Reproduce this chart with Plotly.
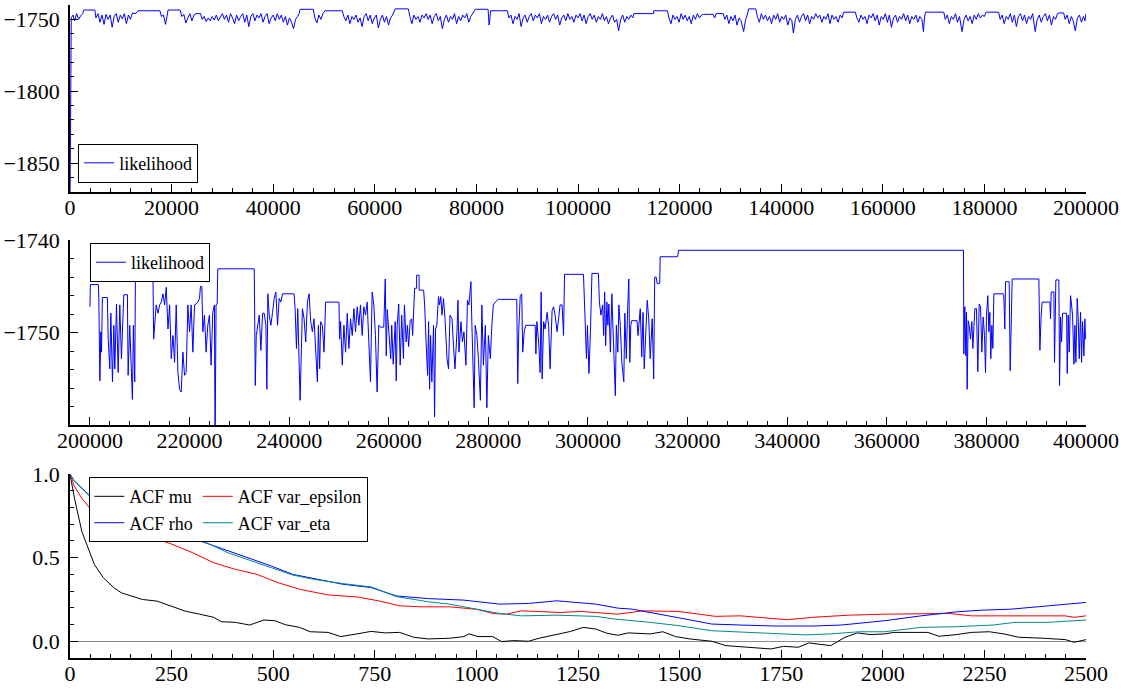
import plotly.graph_objects as go

# ---------------- data ----------------
# Panel 1: likelihood trace, iterations 0 - 200000 (iteration in thousands, log-likelihood)
top_trace = [
    (0, -1880), (0.25, -1749), (0.6, -1747), (0.9, -1751), (1.3, -1746), (1.7, -1750), (2.1, -1747.5), (2.5, -1746),
    (2.7, -1743.5), (4.9, -1743.5),
    (5.1, -1749), (5.5, -1746), (5.9, -1752), (6.3, -1747), (6.7, -1753.5), (7.1, -1746.5), (7.5, -1750), (7.9, -1747),
    (8.3, -1755.5), (8.7, -1748), (9.1, -1746), (9.5, -1752), (9.9, -1747), (10.3, -1749.5), (10.7, -1746), (11.1, -1753),
    (11.5, -1747), (11.9, -1750), (12.3, -1745.5), (12.8, -1746), (13.1, -1745.5),
    (13.4, -1744), (17.7, -1744),
    (18.0, -1748), (18.4, -1747), (18.8, -1753.5), (19.1, -1748),
    (19.3, -1743.5), (21.7, -1743.5),
    (22.0, -1748), (22.4, -1746.5), (22.8, -1752.5), (23.2, -1749), (23.6, -1746), (24.0, -1751), (24.4, -1747),
    (24.8, -1746), (25.7, -1746),
    (26.0, -1750), (26.4, -1748), (26.8, -1751.5), (27.2, -1749), (27.6, -1751), (28.0, -1748), (28.4, -1750.5),
    (28.8, -1747), (29.2, -1751), (29.6, -1748), (30.0, -1746), (30.4, -1750), (30.8, -1747), (31.2, -1752),
    (31.6, -1746), (32.0, -1749), (32.4, -1753), (32.8, -1747), (33.2, -1751), (33.6, -1748), (34.0, -1746),
    (34.4, -1752), (34.8, -1747), (35.2, -1755), (35.6, -1748), (36.0, -1746), (36.4, -1751), (36.8, -1747),
    (37.2, -1749), (37.6, -1746), (38.0, -1752), (38.4, -1748), (38.8, -1746), (39.2, -1753), (39.6, -1749),
    (40.0, -1747), (40.4, -1751), (40.8, -1746), (41.2, -1750), (41.6, -1747), (42.0, -1752), (42.4, -1748),
    (42.8, -1754), (43.2, -1749), (43.6, -1752), (44.0, -1756.5), (44.4, -1750), (44.8, -1748), (45.1, -1746),
    (45.3, -1743), (47.9, -1743),
    (48.2, -1749), (48.6, -1752.5), (49.0, -1747), (49.4, -1750), (49.8, -1746),
    (50.2, -1744), (53.6, -1744),
    (53.9, -1748), (54.3, -1751), (54.7, -1747), (55.1, -1753), (55.5, -1748), (55.9, -1750), (56.3, -1747),
    (56.7, -1752), (57.1, -1749), (57.5, -1755), (57.9, -1748), (58.3, -1746), (58.7, -1751), (59.1, -1747),
    (59.5, -1753), (59.9, -1749), (60.3, -1747), (60.7, -1756), (61.1, -1750), (61.5, -1747), (61.9, -1752),
    (62.3, -1748), (62.7, -1754), (63.1, -1749), (63.5, -1747),
    (64.0, -1742.7), (66.6, -1742.7),
    (66.9, -1748), (67.3, -1753), (67.7, -1747), (68.1, -1750), (68.5, -1748), (68.9, -1752), (69.3, -1747),
    (69.7, -1749), (70.1, -1746), (70.5, -1750), (70.9, -1747), (71.3, -1753), (71.7, -1748), (72.1, -1746),
    (72.5, -1751), (72.9, -1748), (73.3, -1756.5), (73.7, -1750), (74.1, -1747), (74.5, -1752), (74.9, -1748),
    (75.3, -1750), (75.7, -1746), (76.1, -1753), (76.5, -1748), (76.9, -1751), (77.3, -1747), (77.7, -1749),
    (78.1, -1746), (78.5, -1752), (78.9, -1748), (79.3, -1746),
    (79.8, -1743), (82.3, -1743),
    (82.5, -1754), (82.7, -1748),
    (82.8, -1744), (86.1, -1744),
    (86.4, -1749), (86.8, -1747), (87.2, -1753), (87.6, -1748), (88.0, -1750), (88.4, -1746), (88.8, -1755),
    (89.2, -1749), (89.6, -1747), (90.0, -1752), (90.4, -1748), (90.8, -1746), (91.2, -1751), (91.6, -1747),
    (92.0, -1749), (92.4, -1746), (92.8, -1753), (93.2, -1748), (93.6, -1750), (94.0, -1747), (94.4, -1752),
    (94.8, -1748), (95.2, -1746), (95.6, -1750), (96.0, -1747), (96.4, -1754), (96.8, -1749), (97.2, -1747),
    (97.6, -1751), (98.0, -1746), (98.4, -1750), (98.8, -1748), (99.2, -1752), (99.6, -1747), (100.0, -1749),
    (100.4, -1746), (100.8, -1751), (101.2, -1747), (101.6, -1753), (102.0, -1748), (102.4, -1746), (102.8, -1750),
    (103.2, -1747), (103.6, -1752), (104.0, -1748), (104.4, -1750), (104.8, -1746), (105.2, -1751), (105.6, -1748),
    (106.0, -1753), (106.4, -1749), (106.8, -1747), (107.2, -1752), (107.6, -1750), (108.0, -1758), (108.4, -1750),
    (108.8, -1747), (109.2, -1752), (109.6, -1748), (110.0, -1750), (110.4, -1747), (110.8, -1749),
    (111.0, -1746), (114.9, -1746), (114.9, -1744), (117.6, -1744),
    (117.9, -1749), (118.3, -1753), (118.7, -1747), (119.1, -1750), (119.5, -1748), (119.9, -1752), (120.3, -1746),
    (120.7, -1750), (121.1, -1747), (121.5, -1751), (121.9, -1748), (122.3, -1753), (122.7, -1747), (123.1, -1750),
    (123.5, -1746), (123.9, -1749), (124.3, -1747),
    (124.7, -1746.5), (126.6, -1746.5), (126.9, -1749), (127.2, -1746), (128.6, -1746),
    (128.9, -1750), (129.3, -1747), (129.7, -1753), (130.1, -1748), (130.5, -1751), (130.9, -1747), (131.3, -1754),
    (131.7, -1749), (132.1, -1751), (132.6, -1758.5), (133.0, -1750), (133.3, -1747),
    (133.6, -1742.7), (135.0, -1742.7),
    (135.3, -1748), (135.7, -1752), (136.1, -1746), (136.5, -1750), (136.9, -1747), (137.3, -1751), (137.7, -1748),
    (138.1, -1753), (138.5, -1747), (138.9, -1750), (139.3, -1746), (139.7, -1752), (140.1, -1748), (140.5, -1750),
    (140.9, -1747), (141.3, -1754), (141.7, -1749), (142.1, -1751), (142.4, -1759.5), (142.8, -1750), (143.2, -1747),
    (143.6, -1752), (144.0, -1748), (144.4, -1746), (144.8, -1751), (145.2, -1747), (145.6, -1753), (146.0, -1748),
    (146.4, -1750), (146.8, -1746), (147.2, -1749), (147.6, -1747), (148.0, -1752), (148.4, -1748), (148.8, -1750),
    (149.2, -1746), (149.6, -1753), (150.0, -1747), (150.4, -1750), (150.8, -1748), (151.2, -1752), (151.6, -1747),
    (152.0, -1749),
    (152.3, -1745), (154.6, -1745),
    (154.9, -1749), (155.3, -1752), (155.7, -1747), (156.1, -1750), (156.5, -1748), (156.9, -1753), (157.3, -1747),
    (157.7, -1749), (158.1, -1746), (158.5, -1751), (158.9, -1747), (159.3, -1754), (159.7, -1748), (160.1, -1750),
    (160.5, -1746), (160.9, -1752), (161.3, -1747), (161.7, -1755.5), (162.1, -1749), (162.5, -1747), (162.9, -1752),
    (163.3, -1748), (163.7, -1750), (164.1, -1746), (164.5, -1751), (164.9, -1747), (165.3, -1753), (165.7, -1748),
    (166.1, -1750), (166.5, -1747), (166.9, -1752), (167.3, -1748), (167.7, -1750), (168.0, -1758.5), (168.2, -1749),
    (168.4, -1745), (172.0, -1745),
    (172.3, -1750), (172.7, -1747), (173.1, -1753), (173.5, -1748), (173.9, -1750), (174.3, -1746), (174.7, -1752),
    (175.1, -1748), (175.6, -1758.5), (176.0, -1750), (176.4, -1747), (176.8, -1751), (177.2, -1748), (177.6, -1753),
    (178.0, -1747), (178.4, -1750), (178.8, -1746), (179.2, -1749), (179.6, -1747), (180.0, -1748),
    (180.3, -1745), (182.8, -1745),
    (183.1, -1750), (183.5, -1747), (183.9, -1753), (184.3, -1748), (184.7, -1750), (185.1, -1746), (185.5, -1752),
    (185.9, -1747), (186.3, -1755), (186.7, -1748), (187.1, -1746), (187.5, -1751), (187.9, -1747), (188.3, -1753),
    (188.7, -1748), (189.1, -1750), (189.5, -1746), (190.0, -1758.5), (190.4, -1750), (190.8, -1747), (191.2, -1752),
    (191.6, -1748), (192.0, -1746), (192.4, -1751), (192.8, -1747), (193.2, -1754), (193.6, -1748), (194.0, -1750),
    (194.4, -1746), (194.8, -1745.5), (195.6, -1745.5), (195.9, -1750), (196.3, -1747), (196.7, -1753), (197.1, -1748),
    (197.5, -1751), (197.9, -1758), (198.3, -1749), (198.7, -1747), (199.1, -1752), (199.5, -1748), (199.8, -1751),
    (200.0, -1746),
]

# Panel 2: likelihood trace, iterations 200000 - 400000
mid_trace = [
    (200.0, -1747.2), (200.1, -1744.8), (201.7, -1744.8), (201.8, -1746.7), (201.93, -1752.1), (202.0, -1755.2),
    (202.2, -1749.9), (202.33, -1752.1), (202.45, -1748.1), (202.5, -1746.2), (203.5, -1746.2),
    (203.67, -1750.7), (204.0, -1753.9), (204.2, -1747.9), (204.53, -1755.3), (204.8, -1749.2), (205.0, -1753.9),
    (205.33, -1746.9), (205.67, -1754.3), (206.0, -1747.0), (206.33, -1752.8), (206.8, -1745.9), (207.53, -1745.9),
    (207.67, -1754.6), (208.0, -1749.2), (208.33, -1753.9), (208.53, -1757.2), (208.73, -1749.2), (209.0, -1755.3),
    (209.13, -1744.4), (212.67, -1744.4),
    (212.8, -1750.7), (213.0, -1749.2), (213.3, -1747.0), (213.67, -1747.9), (214.0, -1747.0), (214.33, -1746.7),
    (214.67, -1745.8), (215.0, -1747.0), (215.33, -1745.1), (215.67, -1749.6), (216.0, -1747.0), (216.33, -1752.8),
    (216.67, -1750.3), (217.0, -1753.2), (217.33, -1747.0), (217.67, -1754.3), (218.0, -1756.1), (218.33, -1756.4),
    (218.67, -1752.1), (219.0, -1754.6), (219.33, -1754.3), (219.67, -1747.0), (220.0, -1749.9), (220.33, -1747.0),
    (220.67, -1752.1), (221.0, -1747.0), (221.33, -1746.9), (221.67, -1746.7), (222.0, -1746.3), (222.2, -1745.0),
    (222.47, -1745.0), (222.67, -1749.9), (223.0, -1748.1), (223.33, -1752.1), (223.67, -1749.2), (224.0, -1748.1),
    (224.33, -1753.5), (224.67, -1747.8), (225.0, -1747.0), (225.13, -1762.0), (225.33, -1747.0), (225.55, -1746.9),
    (225.67, -1743.1), (233.0, -1743.1),
    (233.05, -1749.2), (233.2, -1755.7), (233.4, -1750.3), (233.67, -1749.2), (234.0, -1748.1), (234.33, -1751.9),
    (234.67, -1747.9), (235.0, -1747.9), (235.33, -1749.2), (235.53, -1756.1), (235.73, -1745.8), (236.0, -1748.1),
    (236.33, -1749.2), (236.67, -1747.8), (237.0, -1746.3), (237.33, -1745.6), (237.67, -1749.2), (238.0, -1746.3),
    (238.33, -1746.7), (238.67, -1745.8), (241.0, -1745.8),
    (241.2, -1747.4), (241.47, -1751.7), (241.73, -1747.4), (242.0, -1754.3), (242.2, -1757.3), (242.4, -1753.2),
    (242.67, -1747.4), (243.0, -1748.5), (243.33, -1751.0), (243.67, -1746.7), (244.0, -1745.8), (244.33, -1748.8),
    (244.67, -1749.9), (245.0, -1748.5), (245.33, -1751.4), (245.67, -1755.3), (245.87, -1749.2), (246.13, -1753.9),
    (246.33, -1748.8), (246.67, -1749.2), (247.0, -1752.1), (247.33, -1746.7), (250.0, -1746.7),
    (250.13, -1750.7), (250.33, -1748.8), (250.67, -1753.5), (251.0, -1749.2), (251.33, -1752.1), (251.67, -1747.9),
    (252.0, -1751.7), (252.33, -1748.5), (252.67, -1750.3), (253.0, -1747.4), (253.33, -1749.9), (253.67, -1747.2),
    (254.0, -1749.2), (254.33, -1747.0), (254.67, -1750.3), (255.0, -1747.2), (255.33, -1748.1), (255.67, -1746.7),
    (256.0, -1750.7), (256.33, -1755.3), (256.67, -1745.6), (257.0, -1747.0), (257.33, -1750.3), (257.67, -1756.4),
    (258.0, -1749.2), (258.3, -1749.4), (259.0, -1749.4), (259.2, -1747.0), (259.3, -1744.2), (259.5, -1752.5),
    (259.7, -1747.5),
    (260.4, -1752.8), (260.6, -1749.2), (260.9, -1753.4), (261.3, -1748.8), (261.5, -1755.2), (261.7, -1749.2),
    (262.0, -1746.9), (262.3, -1753.5), (262.6, -1748.1), (262.95, -1752.8), (263.15, -1747.0), (263.5, -1751.0),
    (263.75, -1749.2), (264.0, -1751.5), (264.3, -1748.7), (264.6, -1748.5), (264.8, -1750.3), (264.96, -1748.1),
    (265.2, -1745.2), (265.6, -1745.2), (265.6, -1743.8), (266.1, -1743.8), (266.1, -1745.4), (267.0, -1745.4),
    (267.2, -1746.9), (267.5, -1751.0), (267.8, -1754.6), (268.0, -1748.8), (268.2, -1756.1), (268.4, -1750.3),
    (268.65, -1755.3), (269.0, -1749.2), (269.2, -1759.1), (269.4, -1749.6), (269.65, -1749.2), (270.0, -1746.1),
    (270.2, -1747.0), (270.45, -1746.1), (270.7, -1748.1), (271.0, -1746.3), (271.3, -1748.5),
    (271.7, -1752.8), (272.0, -1753.9), (272.3, -1748.1), (272.7, -1748.5), (273.0, -1751.4), (273.3, -1753.9),
    (273.7, -1749.9), (273.9, -1746.5), (274.1, -1752.1), (274.5, -1748.8), (274.8, -1751.0), (275.1, -1749.9),
    (275.5, -1753.5), (275.8, -1746.5), (276.1, -1747.0), (276.5, -1744.5),
    (276.7, -1749.2), (276.9, -1753.5), (277.15, -1758.1), (277.35, -1749.2), (277.7, -1750.3), (278.0, -1752.8),
    (278.4, -1757.3), (278.7, -1747.0), (279.0, -1753.5), (279.4, -1749.2), (279.7, -1758.1), (280.0, -1750.3),
    (280.4, -1752.8), (280.7, -1749.2), (281.0, -1747.0), (281.4, -1746.7), (282.0, -1746.4), (285.7, -1746.4),
    (285.9, -1755.5), (286.1, -1749.9), (286.4, -1746.0), (286.7, -1745.8), (286.9, -1752.1), (287.2, -1749.9),
    (287.5, -1749.2), (289.4, -1749.2),
    (289.55, -1752.3), (289.75, -1748.8), (290.1, -1751.0), (290.4, -1754.3), (290.6, -1745.6), (290.8, -1755.0),
    (291.1, -1748.8), (291.4, -1749.6), (291.8, -1747.8), (292.1, -1749.2), (292.4, -1753.9), (292.8, -1747.6),
    (293.1, -1747.2), (293.4, -1748.1), (293.8, -1749.9), (294.1, -1748.5), (294.4, -1747.0), (294.8, -1747.0),
    (295.1, -1750.3), (295.3, -1743.7), (299.1, -1743.7),
    (299.3, -1746.7), (299.7, -1752.8), (299.9, -1749.2), (300.2, -1754.4), (300.5, -1749.9), (300.7, -1746.0),
    (300.8, -1743.6), (302.1, -1743.6),
    (302.3, -1746.7), (302.6, -1748.1), (302.95, -1747.0), (303.15, -1750.3), (303.35, -1745.6), (303.55, -1751.4),
    (303.8, -1746.7), (304.0, -1749.2), (304.2, -1746.9), (304.5, -1752.1), (304.8, -1745.8), (305.0, -1749.2),
    (305.3, -1753.5), (305.5, -1756.8), (305.7, -1749.2), (306.0, -1752.1), (306.2, -1747.0), (306.5, -1749.2),
    (306.8, -1753.2), (307.2, -1755.3), (307.4, -1747.9), (307.7, -1752.8), (308.0, -1747.0), (308.2, -1744.2),
    (308.4, -1753.2), (308.6, -1749.2), (308.8, -1748.7), (309.85, -1748.7), (310.05, -1750.3), (310.25, -1749.2),
    (310.5, -1747.4), (310.8, -1752.6), (311.05, -1747.8), (311.3, -1753.9), (311.6, -1749.2), (311.9, -1746.5),
    (312.2, -1748.5), (312.5, -1752.8), (312.9, -1748.5), (313.2, -1755.0),
    (313.4, -1744.0), (313.7, -1744.0), (313.9, -1744.7), (314.4, -1744.7), (314.5, -1741.8), (318.0, -1741.8),
    (318.2, -1741.1), (375.4, -1741.1),
    (375.47, -1752.3), (375.67, -1747.2), (375.87, -1752.5), (376.0, -1747.8), (376.14, -1756.1), (376.34, -1748.7),
    (376.54, -1749.2), (376.81, -1750.7), (377.08, -1748.8), (377.28, -1751.7), (377.48, -1749.6), (377.68, -1747.4),
    (378.01, -1747.4), (378.28, -1754.2), (378.55, -1746.9), (378.82, -1747.2), (379.09, -1752.1), (379.35, -1748.3),
    (379.62, -1750.3), (379.82, -1754.3), (380.02, -1748.1), (380.29, -1746.0), (380.49, -1749.9), (380.69, -1747.8),
    (380.89, -1752.8), (381.1, -1749.2), (381.3, -1751.7), (381.5, -1745.8), (383.37, -1745.8), (383.5, -1746.0),
    (383.7, -1749.6), (383.84, -1744.5), (384.58, -1744.5), (384.78, -1754.1), (384.98, -1749.2), (385.18, -1744.2),
    (390.54, -1744.2), (390.74, -1751.9), (391.0, -1748.1), (391.2, -1746.7), (392.75, -1746.7), (392.88, -1748.5),
    (393.02, -1745.6), (393.55, -1745.6), (393.68, -1753.2), (393.82, -1744.9), (393.95, -1744.3), (394.55, -1744.3),
    (394.69, -1755.7), (394.89, -1748.3), (395.09, -1751.0), (395.29, -1747.9), (396.1, -1747.9), (396.23, -1754.4),
    (396.43, -1748.1), (396.63, -1752.1), (396.9, -1746.0), (397.1, -1747.0), (397.3, -1748.1), (397.57, -1753.4),
    (397.77, -1749.2), (397.97, -1753.2), (398.24, -1746.3), (398.44, -1748.5), (398.64, -1752.8), (398.91, -1747.8),
    (399.11, -1753.2), (399.31, -1748.8), (399.58, -1752.5), (399.78, -1748.5), (399.9, -1750.7),
]

top_iter = [p[0] * 1000 for p in top_trace]
top_ll = [p[1] for p in top_trace]
mid_iter = [p[0] * 1000 for p in mid_trace]
mid_ll = [p[1] for p in mid_trace]

# Panel 3: autocorrelation functions
mu_lag = [0, 11, 29, 47, 60, 82, 108, 126, 161, 178,
          214, 249, 284, 319, 354, 372, 407, 442, 477, 504,
          530, 565, 591, 635, 666, 706, 741, 776, 811, 846,
          881, 934, 969, 982, 1004, 1040, 1062, 1092, 1128, 1154,
          1206, 1232, 1263, 1294, 1321, 1348, 1374, 1428, 1459, 1490,
          1525, 1579, 1614, 1667, 1725, 1756, 1792, 1818, 1872, 1907,
          1938, 1969, 2005, 2027, 2076, 2111, 2138, 2182, 2218, 2262,
          2298, 2334, 2396, 2449, 2471, 2500]
mu_acf = [1.0, 0.855, 0.657, 0.539, 0.459, 0.38, 0.32, 0.29, 0.265, 0.25,
          0.24, 0.21, 0.18, 0.162, 0.143, 0.117, 0.113, 0.097, 0.127, 0.123,
          0.099, 0.083, 0.057, 0.053, 0.028, 0.044, 0.059, 0.05, 0.053, 0.024,
          0.014, 0.018, 0.028, 0.044, 0.028, 0.028, -0.002, 0.004, 0.0, 0.018,
          0.044, 0.059, 0.083, 0.073, 0.048, 0.036, 0.05, 0.044, 0.057, 0.028,
          0.014, 0.0, -0.026, -0.036, -0.046, -0.03, -0.036, -0.01, -0.026, 0.024,
          0.05, 0.04, 0.044, 0.053, 0.053, 0.053, 0.03, 0.04, 0.053, 0.057,
          0.044, 0.024, 0.018, 0.01, -0.006, 0.01]

rho_lag = [0, 10, 47, 91, 134, 196, 249, 319, 389, 442,
           495, 548, 600, 671, 741, 803, 882, 969, 1057, 1128,
           1198, 1294, 1348, 1383, 1472, 1579, 1650, 1738, 1827, 1898,
           2005, 2094, 2182, 2245, 2316, 2405, 2500]
rho_acf = [1.0, 0.96, 0.875, 0.82, 0.772, 0.717, 0.661, 0.602, 0.539, 0.495,
           0.45, 0.40, 0.374, 0.341, 0.321, 0.271, 0.255, 0.246, 0.222, 0.226,
           0.242, 0.222, 0.198, 0.192, 0.152, 0.103, 0.097, 0.091, 0.091, 0.097,
           0.123, 0.152, 0.176, 0.186, 0.192, 0.212, 0.232]

eps_lag = [0, 10, 29, 55, 91, 134, 178, 249, 302, 354,
           407, 460, 512, 565, 635, 706, 759, 811, 864, 934,
           1004, 1040, 1075, 1110, 1145, 1206, 1259, 1348, 1410, 1499,
           1588, 1650, 1694, 1765, 1827, 1916, 2005, 2094, 2165, 2218,
           2316, 2449, 2471, 2500]
eps_acf = [1.0, 0.93, 0.855, 0.776, 0.727, 0.687, 0.642, 0.582, 0.529, 0.469,
           0.43, 0.40, 0.35, 0.311, 0.277, 0.265, 0.242, 0.212, 0.206, 0.206,
           0.19, 0.166, 0.162, 0.182, 0.178, 0.172, 0.178, 0.162, 0.182, 0.178,
           0.149, 0.152, 0.143, 0.129, 0.143, 0.156, 0.162, 0.162, 0.166, 0.152,
           0.152, 0.152, 0.143, 0.152]

eta_lag = [0, 10, 47, 91, 134, 196, 249, 319, 389, 442,
           495, 548, 600, 671, 741, 803, 882, 934, 1004, 1057,
           1110, 1198, 1294, 1339, 1428, 1499, 1579, 1685, 1738, 1809,
           1872, 1942, 2005, 2094, 2182, 2271, 2325, 2405, 2500]
eta_acf = [1.0, 0.96, 0.871, 0.82, 0.776, 0.721, 0.673, 0.608, 0.529, 0.483,
           0.44, 0.396, 0.37, 0.345, 0.325, 0.267, 0.236, 0.222, 0.192, 0.166,
           0.152, 0.156, 0.149, 0.133, 0.113, 0.093, 0.063, 0.05, 0.048, 0.038,
           0.044, 0.057, 0.057, 0.083, 0.087, 0.097, 0.113, 0.113, 0.127]

# ---------------- figure ----------------
FONT = "Liberation Serif, Times New Roman, serif"
BLUE = "#0000ff"

fig = go.Figure()

fig.add_trace(go.Scatter(x=top_iter, y=top_ll, mode="lines", name="likelihood", showlegend=True,
                         line=dict(color=BLUE, width=1), xaxis="x", yaxis="y", legend="legend"))
fig.add_trace(go.Scatter(x=mid_iter, y=mid_ll, mode="lines", name="likelihood", showlegend=True,
                         line=dict(color=BLUE, width=1), xaxis="x2", yaxis="y2", legend="legend2"))

acf_series = [
    ("ACF mu", mu_lag, mu_acf, "#000000", "a"),
    ("ACF var_epsilon", eps_lag, eps_acf, "#ff0000", "b"),
    ("ACF rho", rho_lag, rho_acf, "#0000ff", "a"),
    ("ACF var_eta", eta_lag, eta_acf, "#008b8b", "b"),
]
for name, lx, ly, col, grp in acf_series:
    fig.add_trace(go.Scatter(x=lx, y=ly, mode="lines", name=name, legendgroup=grp, showlegend=True,
                             line=dict(color=col, width=1), xaxis="x3", yaxis="y3", legend="legend3"))


def axis_style(standoff, **kw):
    d = dict(showline=True, linecolor="black", linewidth=1.5, ticks="inside", ticklen=8,
             tickwidth=1.2, tickcolor="black", showgrid=False, zeroline=False,
             tickfont=dict(family=FONT, size=22, color="black"), automargin=False,
             ticklabelstandoff=standoff)
    d.update(kw)
    return d


def minor(dt, t0=0):
    return dict(ticks="inside", ticklen=4, tickwidth=1, tickcolor="black", dtick=dt, tick0=t0, showgrid=False)


legend_common = dict(xanchor="left", bgcolor="white", bordercolor="black", borderwidth=1,
                     font=dict(family=FONT, size=18, color="black"))

XOFF = -5
fig.update_layout(
    width=1125, height=689,
    template="none",
    showlegend=True,
    paper_bgcolor="white", plot_bgcolor="white",
    margin=dict(l=70, r=39, t=5, b=31),
    font=dict(family=FONT, size=18, color="black"),
    xaxis=axis_style(XOFF, domain=[0, 1], anchor="y", range=[0, 200000], tick0=0, dtick=20000,
                     tickformat="d", minor=minor(4000)),
    yaxis=axis_style(4, domain=[0.714, 1.0], anchor="x", range=[-1870, -1740], tick0=-1850, dtick=50,
                     tickformat="d", minor=minor(10, -1870)),
    xaxis2=axis_style(XOFF, domain=[0, 1], anchor="y2", range=[196000, 400000], tick0=0, dtick=20000,
                      tickformat="d", minor=minor(4000)),
    yaxis2=axis_style(4, domain=[0.357, 0.640], anchor="x2", range=[-1759.95, -1740], tick0=-1750, dtick=10,
                      tickformat="d", minor=minor(2, -1750)),
    xaxis3=axis_style(XOFF, domain=[0, 1], anchor="y3", range=[0, 2500], tick0=0, dtick=250,
                      tickformat="d", minor=minor(50)),
    yaxis3=axis_style(4, domain=[0, 0.2818], anchor="x3", range=[-0.1, 1.0], tick0=0, dtick=0.5,
                      tickformat=".1f", minor=minor(0.1, 0), zeroline=True, zerolinecolor="#888888",
                      zerolinewidth=1),
    legend=dict(x=0.008, y=0.728, yanchor="bottom", **legend_common),
    legend2=dict(x=0.0197, y=0.6355, yanchor="top", **legend_common),
    legend3=dict(x=0.019, y=0.277, yanchor="top", orientation="h", traceorder="grouped", tracegroupgap=0,
                 **legend_common),
)

fig.write_html("out.html", config={"displayModeBar": False},
               post_script="document.body.style.margin='0';document.body.style.overflow='hidden';")
